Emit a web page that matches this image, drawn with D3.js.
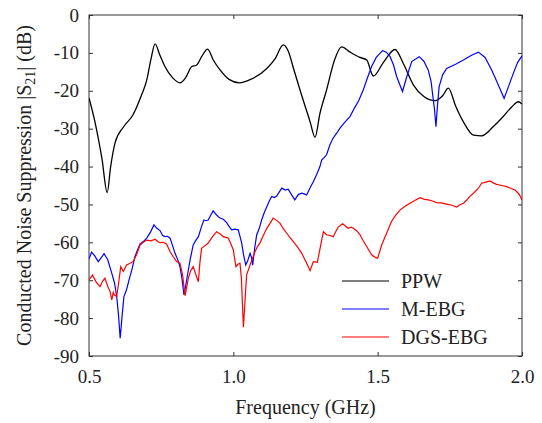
<!DOCTYPE html>
<html><head><meta charset="utf-8">
<script src="https://cdn.jsdelivr.net/npm/d3@7"></script>
</head><body style="margin:0">
<svg id="c" width="542" height="423" style="font-family:'Liberation Serif', Tinos, 'Times New Roman', serif"></svg>
<script>
const xTicks = [0.5, 1.0, 1.5, 2.0];
const yTicks = [0, -10, -20, -30, -40, -50, -60, -70, -80, -90];
const seriesNames = ["PPW", "M-EBG", "DGS-EBG"];
const seriesColors = ["#000000", "#0000ff", "#ff0000"];

const ppw = [[0.5,-21.9],[0.52,-28],[0.545,-38],[0.563,-46.9],[0.575,-40],[0.59,-33.8],[0.62,-29.5],[0.652,-26.4],[0.68,-21.5],[0.70,-17.2],[0.715,-11.5],[0.729,-7.6],[0.745,-10.5],[0.763,-13.6],[0.79,-16.6],[0.815,-17.9],[0.835,-16.5],[0.856,-13.6],[0.873,-13.2],[0.89,-11],[0.911,-9.0],[0.93,-11.8],[0.954,-14.5],[0.985,-17],[1.021,-17.9],[1.06,-17],[1.116,-14.1],[1.145,-11.5],[1.173,-7.9],[1.19,-9.5],[1.21,-14.5],[1.231,-19.8],[1.266,-28.2],[1.283,-32.3],[1.30,-26],[1.323,-19.8],[1.35,-12],[1.375,-8.4],[1.405,-9.8],[1.439,-11.2],[1.462,-11.9],[1.485,-16.1],[1.52,-12.5],[1.56,-9.1],[1.59,-13],[1.624,-18.5],[1.66,-21.5],[1.699,-22.6],[1.725,-21.3],[1.745,-19.3],[1.77,-24],[1.797,-28.2],[1.832,-31.7],[1.86,-31.9],[1.9,-29.5],[1.935,-26.8],[1.965,-24.2],[1.987,-22.9],[2.0,-23.5]];

const mebg = [[0.5,-64.4],[0.509,-62.6],[0.52,-63.6],[0.532,-65.1],[0.545,-63.8],[0.552,-63.0],[0.565,-64.6],[0.579,-68.2],[0.588,-70.6],[0.596,-74.3],[0.602,-79],[0.608,-85.3],[0.614,-80],[0.621,-74.3],[0.63,-72.5],[0.642,-69.0],[0.65,-66.8],[0.659,-63.8],[0.668,-62],[0.677,-60.4],[0.688,-59.8],[0.70,-58.9],[0.713,-57.3],[0.725,-55.4],[0.735,-56.3],[0.746,-56.9],[0.755,-58.2],[0.763,-58.5],[0.772,-58.4],[0.781,-58.9],[0.79,-61],[0.798,-62.9],[0.807,-64.5],[0.815,-66.4],[0.822,-69.5],[0.829,-73.9],[0.836,-71],[0.844,-67.3],[0.852,-64],[0.861,-60.7],[0.87,-59.5],[0.879,-58.5],[0.89,-55.8],[0.898,-54.1],[0.905,-54.3],[0.913,-54.1],[0.922,-52.8],[0.93,-51.7],[0.942,-52.8],[0.954,-53.6],[0.965,-53.9],[0.977,-54.8],[0.985,-55.8],[0.994,-56.7],[1.005,-56.5],[1.017,-56.7],[1.029,-60.2],[1.036,-63.5],[1.043,-66.0],[1.05,-64.8],[1.058,-62.9],[1.063,-64],[1.067,-66.0],[1.074,-61.5],[1.081,-58.0],[1.09,-56.3],[1.098,-54.1],[1.107,-52.2],[1.116,-50.6],[1.125,-49],[1.133,-47.9],[1.142,-48.2],[1.15,-47.8],[1.16,-46.6],[1.168,-45.7],[1.18,-46.2],[1.19,-46.0],[1.2,-47.2],[1.213,-48.8],[1.225,-47.4],[1.237,-47.0],[1.245,-47.2],[1.254,-47.5],[1.266,-45.6],[1.277,-44.0],[1.288,-42.2],[1.30,-40.0],[1.306,-38.3],[1.315,-37.6],[1.323,-36.9],[1.335,-34.2],[1.345,-32.6],[1.358,-31.2],[1.37,-29.8],[1.385,-28.4],[1.404,-26.8],[1.42,-24.5],[1.435,-22.5],[1.45,-19.8],[1.465,-16.5],[1.479,-13.6],[1.495,-11.2],[1.517,-9.4],[1.53,-9.8],[1.543,-11.0],[1.555,-13.2],[1.566,-16.3],[1.586,-20.2],[1.6,-16.5],[1.618,-12.3],[1.644,-11.0],[1.66,-12.2],[1.675,-14.5],[1.685,-17.5],[1.69,-20.7],[1.697,-25],[1.702,-29.5],[1.707,-24],[1.713,-18.9],[1.725,-15.8],[1.739,-14.1],[1.77,-13.0],[1.797,-11.9],[1.825,-10.6],[1.849,-9.8],[1.872,-11.2],[1.895,-14.5],[1.918,-18.5],[1.938,-22.0],[1.955,-18.5],[1.97,-15.4],[1.985,-12.5],[2.0,-10.8]];

const dgs = [[0.5,-69.9],[0.507,-69.2],[0.512,-68.6],[0.525,-70.5],[0.538,-71.7],[0.547,-70.3],[0.555,-69.5],[0.565,-71.6],[0.573,-73.0],[0.579,-75.2],[0.584,-73.2],[0.588,-73.9],[0.596,-74.3],[0.603,-70.5],[0.61,-66.4],[0.619,-67.7],[0.63,-66.0],[0.641,-65.6],[0.653,-65.1],[0.665,-63.2],[0.677,-60.7],[0.688,-60.0],[0.70,-59.4],[0.715,-59.6],[0.729,-59.2],[0.738,-59.8],[0.746,-60.1],[0.758,-60.0],[0.769,-60.5],[0.781,-62.5],[0.792,-63.8],[0.803,-65.0],[0.815,-65.5],[0.824,-68.5],[0.833,-74.1],[0.838,-72],[0.844,-69.5],[0.852,-67.5],[0.861,-66.4],[0.87,-68.5],[0.879,-70.4],[0.884,-65.5],[0.89,-61.6],[0.9,-61.0],[0.913,-60.2],[0.928,-58.5],[0.942,-57.2],[0.955,-57.8],[0.965,-58.5],[0.975,-58.7],[0.983,-58.9],[0.992,-60.5],[1.0,-62.0],[1.005,-64.5],[1.009,-66.4],[1.016,-65.8],[1.023,-65.5],[1.028,-69.5],[1.031,-75.2],[1.035,-82.4],[1.04,-76.1],[1.046,-68.6],[1.058,-66.0],[1.066,-64.3],[1.075,-62.5],[1.083,-61.2],[1.092,-60.2],[1.104,-58.2],[1.116,-56.3],[1.127,-55.0],[1.138,-53.6],[1.15,-54.2],[1.162,-55.0],[1.173,-56.4],[1.185,-57.6],[1.197,-58.8],[1.208,-59.8],[1.222,-61.2],[1.237,-62.9],[1.254,-65.5],[1.266,-67.5],[1.277,-65.1],[1.291,-65.3],[1.302,-61],[1.312,-57.2],[1.323,-58.0],[1.335,-58.2],[1.346,-58.5],[1.356,-57.0],[1.364,-55.9],[1.379,-55.1],[1.39,-55.8],[1.398,-56.3],[1.408,-56.0],[1.416,-56.3],[1.428,-57.0],[1.439,-58.0],[1.45,-59.6],[1.462,-61.1],[1.479,-63.3],[1.49,-63.9],[1.50,-64.2],[1.514,-60.7],[1.531,-57.6],[1.548,-54.5],[1.562,-52.9],[1.577,-51.5],[1.595,-50.5],[1.612,-49.7],[1.63,-48.9],[1.647,-48.2],[1.66,-48.6],[1.675,-48.8],[1.69,-49.1],[1.704,-49.5],[1.72,-49.6],[1.739,-49.9],[1.757,-50.2],[1.774,-50.7],[1.785,-50.1],[1.797,-49.7],[1.808,-48.9],[1.82,-47.8],[1.83,-47.2],[1.843,-46.2],[1.852,-45.4],[1.86,-44.4],[1.875,-44.1],[1.889,-43.8],[1.9,-44.3],[1.912,-44.7],[1.93,-45.0],[1.947,-45.3],[1.962,-45.8],[1.976,-46.2],[1.99,-47.3],[2.0,-48.8]];

const FONT = '"Liberation Serif", Tinos, "Times New Roman", serif';
const W = 542, H = 423;
const m = {left: 89, right: 20, top: 15, bottom: 67};
const svg = d3.select("#c");
const x = d3.scaleLinear().domain([0.5, 2.0]).range([m.left, W - m.right]);
const y = d3.scaleLinear().domain([-90, 0]).range([H - m.bottom, m.top]);
const axisColor = "#333";

function draw() {
  svg.selectAll("*").remove();
  function styleAxis(g, labels) {
    g.attr("font-family", null).attr("font-size", null);
    g.select(".domain").remove();
    g.selectAll(".tick line").attr("stroke", axisColor).attr("stroke-width", 1);
    if (labels) g.selectAll(".tick text").style("font-family", FONT).style("font-size", "19px").attr("fill", "#222");
    else g.selectAll(".tick text").remove();
  }
  svg.append("g").attr("transform", `translate(0,${y(-90)})`)
    .call(d3.axisBottom(x).tickValues(xTicks).tickFormat(d3.format(".1f")).tickSizeInner(-4).tickSizeOuter(0).tickPadding(14))
    .call(g => styleAxis(g, true));
  svg.append("g").attr("transform", `translate(0,${y(0)})`)
    .call(d3.axisTop(x).tickValues(xTicks).tickSizeInner(-4).tickSizeOuter(0))
    .call(g => styleAxis(g, false));
  svg.append("g").attr("transform", `translate(${x(0.5)},0)`)
    .call(d3.axisLeft(y).tickValues(yTicks).tickFormat(d => String(d)).tickSizeInner(-4).tickSizeOuter(0).tickPadding(10))
    .call(g => styleAxis(g, true));
  svg.append("g").attr("transform", `translate(${x(2.0)},0)`)
    .call(d3.axisRight(y).tickValues(yTicks).tickSizeInner(-4).tickSizeOuter(0))
    .call(g => styleAxis(g, false));

  svg.append("rect").attr("x", x(0.5)).attr("y", y(0))
    .attr("width", x(2.0) - x(0.5)).attr("height", y(-90) - y(0))
    .attr("fill", "none").attr("stroke", axisColor).attr("stroke-width", 1);

  svg.append("clipPath").attr("id", "clip").append("rect")
    .attr("x", x(0.5)).attr("y", y(0)).attr("width", x(2.0) - x(0.5)).attr("height", y(-90) - y(0));

  const lineSmooth = d3.line().x(d => x(d[0])).y(d => y(d[1])).curve(d3.curveMonotoneX);
  const lineRough = d3.line().x(d => x(d[0])).y(d => y(d[1]));
  const plot = svg.append("g").attr("clip-path", "url(#clip)");
  plot.append("path").datum(ppw).attr("d", lineSmooth).attr("fill", "none").attr("stroke", seriesColors[0]).attr("stroke-width", 1.3);
  plot.append("path").datum(mebg).attr("d", lineRough).attr("fill", "none").attr("stroke", seriesColors[1]).attr("stroke-width", 1.2);
  plot.append("path").datum(dgs).attr("d", lineRough).attr("fill", "none").attr("stroke", seriesColors[2]).attr("stroke-width", 1.2);

  const lg = svg.append("g");
  const legY = [281, 309, 337];
  seriesNames.forEach((n, i) => {
    lg.append("line").attr("x1", 342).attr("x2", 389).attr("y1", legY[i]).attr("y2", legY[i])
      .attr("stroke", seriesColors[i]).attr("stroke-width", 1.2);
    lg.append("text").attr("x", 401).attr("y", legY[i] + 7)
      .style("font-family", FONT).style("font-size", "20px").attr("fill", "#222").text(n);
  });

  svg.append("text").attr("x", (x(0.5) + x(2.0)) / 2).attr("y", 414)
    .attr("text-anchor", "middle").style("font-family", FONT).style("font-size", "20px").attr("fill", "#222")
    .text("Frequency (GHz)");
  const yt = svg.append("text").attr("transform", `translate(31,${(y(0) + y(-90)) / 2}) rotate(-90)`)
    .attr("text-anchor", "middle").style("font-family", FONT).style("font-size", "20px").attr("fill", "#222");
  yt.append("tspan").text("Conducted Noise Suppression |S");
  yt.append("tspan").style("font-size", "14px").attr("dy", 4).text("21");
  yt.append("tspan").attr("dy", -4).text("| (dB)");
}
draw();
if (document.fonts && document.fonts.load) {
  document.fonts.load('20px "Liberation Serif"').then(draw).catch(() => {});
}
</script>
</body></html>
